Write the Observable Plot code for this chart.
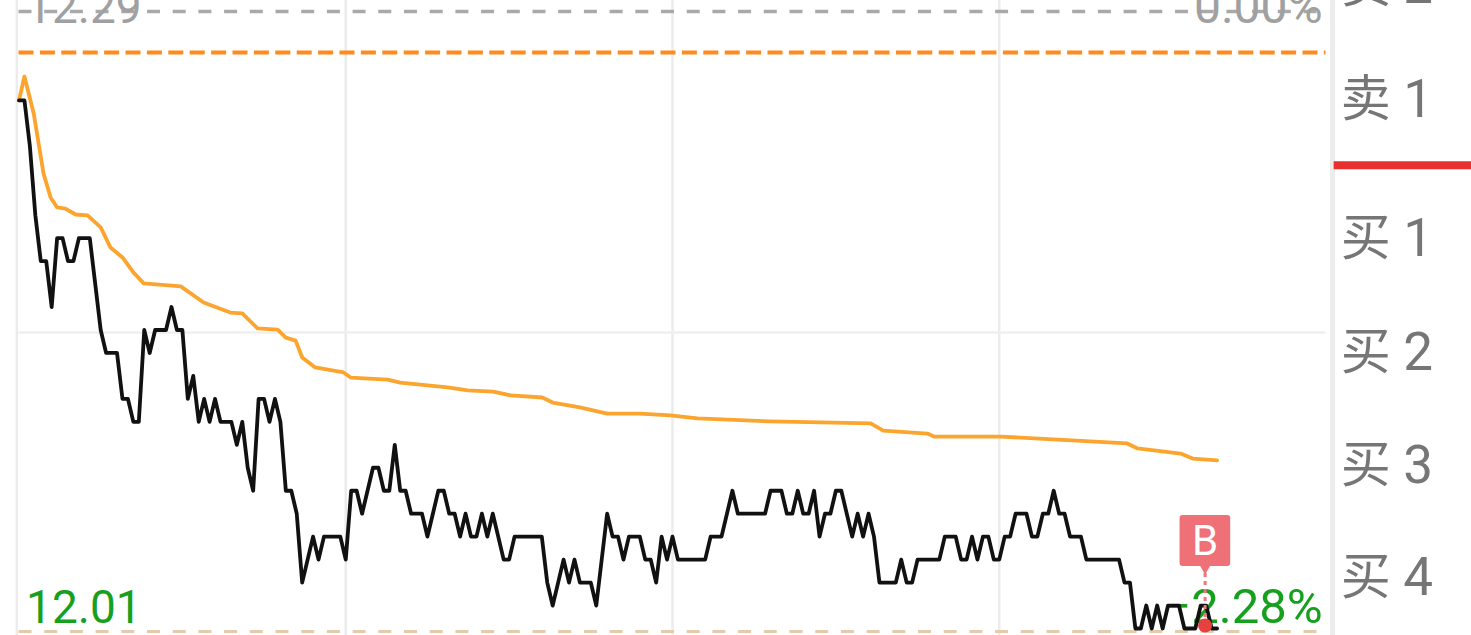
<!DOCTYPE html>
<html>
<head>
<meta charset="utf-8">
<script src="https://cdn.jsdelivr.net/npm/d3@7"></script>
<script src="https://cdn.jsdelivr.net/npm/@observablehq/plot@0.6"></script>
<style>
html,body{margin:0;padding:0;background:#fff;overflow:hidden;}
svg{display:block;}
</style>
</head>
<body>
<div id="chart"></div>
<script>
// Last price per minute, in ticks of 0.01 above 12.01
const lastPriceTicks = [
 23,23,21,18,16,16,14,17,17,16,16,17,17,17,15,13,12,12,12,10,
 10,9,9,13,12,13,13,13,14,13,13,10,11,9,10,9,10,9,9,9,
 8,9,7,6,10,10,9,10,9,6,6,5,2,3,4,3,4,4,4,4,
 3,6,6,5,6,7,7,6,6,8,6,6,5,5,5,4,5,6,6,5,
 5,4,5,4,4,5,4,5,4,3,3,4,4,4,4,4,4,2,1,2,
 3,2,3,2,2,2,1,3,5,4,4,3,4,4,4,3,3,2,4,3,
 4,3,3,3,3,3,3,4,4,4,5,6,5,5,5,5,5,5,6,6,
 6,5,5,6,5,5,6,4,5,5,6,6,5,4,5,4,5,4,2,2,
 2,2,3,2,2,3,3,3,3,3,4,4,4,3,3,4,3,4,4,3,
 3,4,4,5,5,5,4,4,5,5,6,5,5,4,4,4,3,3,3,3,
 3,3,3,2,2,0,0,1,0,1,0,1,1,1,0,0,0,1,1,0,0
];
const basePrice = 12.01;
const tickSize = 0.01;

// Average price line: minute and price
const avgMinutes = [0,1,2.7,4.5,5.8,7,8.5,10.4,12.6,15,16.8,19,21,22.9,29.7,33.9,38.8,41,43.8,47.5,49,50.8,52,54.4,59.6,60.9,67.7,70,78.7,82.4,87.1,90.3,96.1,98,103,108,114,119.6,124.6,138,156.4,158.7,166.8,168,180.2,203.5,205.4,213.3,215.5,220];
const avgPrices = [12.24,12.2504,12.2343,12.2082,12.1977,12.1934,12.1929,12.1903,12.1899,12.1847,12.1759,12.1716,12.1651,12.1603,12.159,12.152,12.1476,12.1472,12.1407,12.1402,12.1367,12.1354,12.128,12.1237,12.1215,12.1193,12.1184,12.1171,12.115,12.1137,12.1132,12.1115,12.1106,12.1084,12.1063,12.1036,12.1036,12.1028,12.1015,12.1002,12.0993,12.0962,12.0949,12.0936,12.0936,12.0906,12.0884,12.0862,12.084,12.0832];

// Reference lines
const prevClosePrice = 12.2787;
const limitPrice = 12.2609;
const midPrice = 12.1389;
const lowPrice = 12.0087;
const timeGrid = [-0.4, 60, 120, 180];

// Buy flag
const buyMinute = 217.8;
const buyDotPrice = 12.0113;
const stemTop = 12.034;
const flagTop = 12.0592;
const flagBottom = 12.037;
const flagLabelPrice = 12.0479;
const flagTipPrice = 12.0362;

// Axis labels
const leftLabelMinute = 1.3;
const rightLabelMinute = 239.4;
const topLabelPrice = 12.2735;
const lowLabelPrice = 12.0125;
const topLeftLabel = "12.29";
const topRightLabel = "0.00%";
const lowLeftLabel = "12.01";
const lowRightLabel = "−2.28%";

// Order book panel
const bookSides = ["卖","卖","买","买","买","买"];
const bookLevels = ["2","1","1","2","3","4"];
const bookPrices = [12.2899,12.2403,12.1797,12.1301,12.0809,12.0321];
const bookSideMinute = 242.7;
const bookLevelMinute = 254.2;
const dividerMinute = 241.2;
const spreadMinutes = [241.5, 275];
const spreadPrice = 12.2117;

const last = lastPriceTicks.map((t, i) => ({m: i, p: basePrice + t * tickSize}));
const avg = avgMinutes.map((m, i) => ({m, p: avgPrices[i]}));
const book = bookSides.map((side, i) => ({side, level: bookLevels[i], p: bookPrices[i]}));

const digits = "Roboto, 'Noto Sans', sans-serif";
const green = "#16a01e";
const greyTxt = "#a0a0a0";

const plot = Plot.plot({
  width: 1471,
  height: 635,
  marginTop: 0, marginRight: 0, marginBottom: 0, marginLeft: 0,
  style: {background: "#ffffff", overflow: "hidden"},
  x: {domain: [0, 240], range: [18.5, 1325.5], axis: null},
  y: {domain: [12.00695, 12.2835], range: [635, 0], axis: null},
  marks: [
    // grid
    Plot.ruleX(timeGrid, {stroke: "#ececec", strokeWidth: 2.5}),
    Plot.ruleY([midPrice], {x1: 0, x2: 240, stroke: "#efefef", strokeWidth: 2.5}),
    Plot.ruleX([dividerMinute], {stroke: "#ececec", strokeWidth: 5}),
    // dashed reference lines
    Plot.ruleY([prevClosePrice], {x1: 0, x2: 240, stroke: "#a9a9a9", strokeWidth: 3.5, strokeDasharray: "13,12.7"}),
    Plot.ruleY([limitPrice], {x1: 0, x2: 240, stroke: "#ff8a1e", strokeWidth: 4, strokeDasharray: "15,6.4"}),
    Plot.ruleY([lowPrice], {x1: 0, x2: 240, stroke: "#e3ccae", strokeWidth: 3, strokeDasharray: "13,12.7"}),
    // labels
    Plot.text([topLeftLabel], {x: leftLabelMinute, y: topLabelPrice, text: d => d, textAnchor: "start", lineAnchor: "bottom", fontFamily: digits, fontSize: 46, fill: greyTxt}),
    Plot.text([topRightLabel], {x: rightLabelMinute, y: topLabelPrice, text: d => d, textAnchor: "end", lineAnchor: "bottom", fontFamily: digits, fontSize: 48, fill: greyTxt}),
    Plot.text([lowLeftLabel], {x: leftLabelMinute, y: lowLabelPrice, text: d => d, textAnchor: "start", lineAnchor: "bottom", fontFamily: digits, fontSize: 46, fill: green}),
    Plot.text([lowRightLabel], {x: rightLabelMinute, y: lowLabelPrice, text: d => d, textAnchor: "end", lineAnchor: "bottom", fontFamily: digits, fontSize: 49, fill: green}),
    // series
    Plot.line(avg, {x: "m", y: "p", stroke: "#fba52e", strokeWidth: 3.8}),
    Plot.line(last, {x: "m", y: "p", stroke: "#111111", strokeWidth: 3.8}),
    // buy marker
    Plot.ruleX([buyMinute], {y1: buyDotPrice, y2: stemTop, stroke: "#f0747a", strokeWidth: 3, strokeDasharray: "4,4"}),
    Plot.rect([0], {x1: () => buyMinute - 4.6, x2: () => buyMinute + 4.7, y1: () => flagBottom, y2: () => flagTop, fill: "#ef7077", rx: 3}),
    Plot.dot([0], {x: () => buyMinute, y: () => flagTipPrice, r: 4, symbol: "triangle", rotate: 180, fill: "#ef7077"}),
    Plot.text(["B"], {x: buyMinute, y: flagLabelPrice, text: d => d, fontFamily: digits, fontSize: 42, fill: "#ffffff"}),
    Plot.dot([0], {x: () => buyMinute, y: () => buyDotPrice, r: 7, fill: "#e8403f"}),
    // order book panel
    Plot.text(book, {x: () => bookSideMinute, y: "p", text: "side", textAnchor: "start", fontFamily: "'Noto Sans CJK SC', sans-serif", fontSize: 50, fill: "#767676"}),
    Plot.text(book, {x: () => bookLevelMinute, y: "p", text: "level", textAnchor: "start", fontFamily: digits, fontSize: 53, fill: "#767676"}),
    Plot.ruleY([spreadPrice], {x1: spreadMinutes[0], x2: spreadMinutes[1], stroke: "#e7302f", strokeWidth: 8})
  ]
});
document.getElementById("chart").appendChild(plot);
</script>
</body>
</html>
